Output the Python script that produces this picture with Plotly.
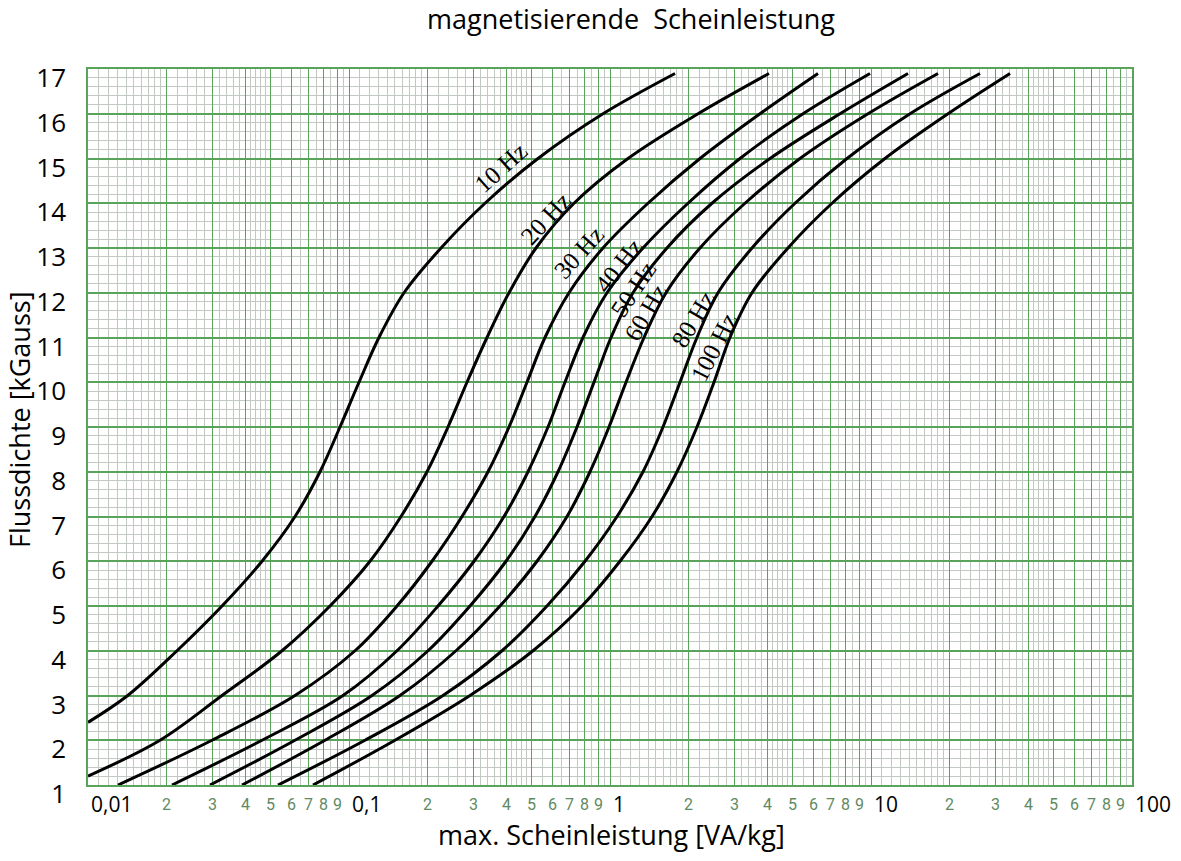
import numpy as np
import plotly.graph_objects as go

# ---------------- data ----------------
freq_labels = ["10 Hz", "20 Hz", "30 Hz", "40 Hz", "50 Hz", "60 Hz", "80 Hz", "100 Hz"]

b_10 = [2.4, 3, 4, 5, 6, 7, 8, 9, 10, 11, 12, 13, 14, 15, 16, 16.9]
s_10 = [0.0100, 0.01420, 0.02193, 0.03262, 0.04642, 0.06213, 0.07743, 0.09237, 0.10922,
        0.13026, 0.16249, 0.2252, 0.3320, 0.5298, 0.9401, 1.7746]

b_20 = [1.2, 2, 3, 4, 5, 6, 7, 8, 9, 10, 11, 12, 13, 14, 15, 16, 16.9]
s_20 = [0.0100, 0.01888, 0.03262, 0.05538, 0.08457, 0.12036, 0.15821, 0.1990, 0.2395,
        0.2832, 0.3379, 0.4103, 0.5206, 0.7279, 1.172, 2.174, 4.066]

b_30 = [1, 2, 3, 4, 5, 6, 7, 8, 9, 10, 11, 12, 13, 14, 15, 16, 16.9]
s_30 = [0.01303, 0.02986, 0.06210, 0.10544, 0.15272, 0.2080, 0.2710, 0.3409, 0.4103,
        0.4808, 0.5636, 0.6965, 0.9401, 1.398, 2.212, 3.756, 6.265]

b_40 = [1, 2, 3, 4, 5, 6, 7, 8, 9, 10, 11, 12, 13, 14, 15, 16, 16.9]
s_40 = [0.02098, 0.04642, 0.09484, 0.15272, 0.2193, 0.3013, 0.3925, 0.4851, 0.5787,
        0.6723, 0.7880, 0.9739, 1.338, 1.990, 3.148, 5.489, 9.912]

b_50 = [1, 2, 3, 4, 5, 6, 7, 8, 9, 10, 11, 12, 13, 14, 15, 16, 16.9]
s_50 = [0.02934, 0.06210, 0.12249, 0.2008, 0.2908, 0.3995, 0.5160, 0.6321, 0.7474,
        0.8684, 1.009, 1.225, 1.653, 2.459, 4.103, 7.607, 13.86]

b_60 = [1, 2, 3, 4, 5, 6, 7, 8, 9, 10, 11, 12, 13, 14, 15, 16, 16.9]
s_60 = [0.03891, 0.08092, 0.15682, 0.2570, 0.3789, 0.5252, 0.6843, 0.8382, 0.9912,
        1.152, 1.350, 1.639, 2.212, 3.290, 5.345, 9.739, 18.06]

b_80 = [1, 2, 3, 4, 5, 6, 7, 8, 9, 10, 11, 12, 13, 14, 15, 16, 16.9]
s_80 = [0.05345, 0.11516, 0.2292, 0.3857, 0.5736, 0.8021, 1.064, 1.338, 1.596,
        1.854, 2.154, 2.593, 3.500, 5.115, 8.092, 14.11, 26.16]

b_100 = [1, 2, 3, 4, 5, 6, 7, 8, 9, 10, 11, 12, 13, 14, 15, 16, 16.9]
s_100 = [0.07279, 0.15006, 0.2908, 0.5070, 0.7811, 1.092, 1.449, 1.806, 2.154,
         2.503, 2.882, 3.500, 4.808, 7.089, 11.31, 19.73, 34.09]

series_s = [s_10, s_20, s_30, s_40, s_50, s_60, s_80, s_100]
series_b = [b_10, b_20, b_30, b_40, b_50, b_60, b_80, b_100]

# curve label anchor positions (data units) and angles
label_s = [0.396, 0.589, 0.788, 1.121, 1.269, 1.423, 2.154, 2.593]
label_b = [14.70, 13.56, 12.80, 12.51, 11.99, 11.46, 11.32, 10.68]
label_angle = [-42, -47, -48, -52, -56, -60, -59, -63]

# axis tick labels
x_major_vals = [0.01, 0.1, 1, 10, 100]
x_major_text = ["0,01", "0,1", "1", "10", "100"]
x_minor_digits = [2, 3, 4, 5, 6, 7, 8, 9]
x_decades = [0.01, 0.1, 1, 10]
y_ticks = list(range(1, 18))

# ---------------- figure ----------------
fig = go.Figure()
for s, b, name in zip(series_s, series_b, freq_labels):
    fig.add_trace(go.Scatter(x=s, y=b, mode="lines", name=name,
                             line=dict(color="black", width=3, shape="spline", smoothing=1.0),
                             showlegend=False, hoverinfo="skip"))

# grid positions (graph paper)
major_x = [d * k for d in x_decades for k in range(1, 10)] + [100]
minor_x = []
for d in x_decades:
    for v in np.arange(1.1, 2.0, 0.1):
        minor_x.append(d * v)
    for v in np.arange(2.2, 5.0, 0.2):
        minor_x.append(d * v)
    for v in np.arange(5.5, 10.0, 0.5):
        minor_x.append(d * v)

green = "#5aa35a"
grey = "#c2c9c2"

fig.update_xaxes(type="log", range=[-2, 2], tickmode="array", tickvals=major_x,
                 showticklabels=False, ticks="",
                 showgrid=True, gridcolor=green, gridwidth=1.2,
                 showline=True, linecolor=green, linewidth=1.5, mirror=True,
                 zeroline=False,
                 minor=dict(tickmode="array", tickvals=minor_x, showgrid=True,
                            gridcolor=grey, gridwidth=1, ticks=""))
fig.update_yaxes(range=[1, 17], tickmode="array", tickvals=y_ticks,
                 ticktext=[str(v) for v in y_ticks],
                 tickfont=dict(family="Open Sans", size=26, color="black"),
                 ticks="", ticklabelstandoff=15, ticklabelshift=9,
                 showgrid=True, gridcolor=green, gridwidth=1.5,
                 showline=True, linecolor=green, linewidth=1.5, mirror=True,
                 zeroline=False,
                 minor=dict(dtick=0.2, showgrid=True, gridcolor=grey, gridwidth=1, ticks=""))

ann = []
# major x labels
for v, t in zip(x_major_vals, x_major_text):
    ann.append(dict(x=np.log10(v), y=0, xref="x", yref="paper", text=t, showarrow=False,
                    xanchor="left", yanchor="top", xshift=1, yshift=-3,
                    font=dict(family="Open Sans", size=21, color="black")))
# minor x digit labels
for d in x_decades:
    for k in x_minor_digits:
        ann.append(dict(x=np.log10(d * k), y=0, xref="x", yref="paper", text=str(k),
                        showarrow=False, xanchor="center", yanchor="top", yshift=-8,
                        font=dict(family="Liberation Sans Narrow, Roboto", size=16,
                                  color="#5f8a5f")))
# curve labels
for s, b, t, a in zip(label_s, label_b, freq_labels, label_angle):
    ann.append(dict(x=np.log10(s), y=b, xref="x", yref="y", text=t, showarrow=False,
                    textangle=a, xanchor="center", yanchor="middle", xshift=-4, yshift=4,
                    font=dict(family="Liberation Serif", size=25, color="black")))
# titles
ann.append(dict(x=0.52, y=1.071, xref="paper", yref="paper",
                text="magnetisierende  Scheinleistung", showarrow=False,
                xanchor="center", yanchor="middle",
                font=dict(family="Open Sans", size=27, color="black")))
ann.append(dict(x=0.501, y=-0.069, xref="paper", yref="paper",
                text="max. Scheinleistung [VA/kg]", showarrow=False,
                xanchor="center", yanchor="middle",
                font=dict(family="Open Sans", size=27, color="black")))
ann.append(dict(x=-0.065, y=0.51, xref="paper", yref="paper",
                text="Flussdichte [kGauss]", showarrow=False, textangle=-90,
                xanchor="center", yanchor="middle",
                font=dict(family="Open Sans", size=27, color="black")))

fig.update_layout(width=1181, height=861,
                  margin=dict(l=88, r=49, t=69, b=76),
                  paper_bgcolor="white", plot_bgcolor="white",
                  annotations=ann)

fig.write_html("out.html", config={"displayModeBar": False},
               post_script="document.body.style.margin='0';")
